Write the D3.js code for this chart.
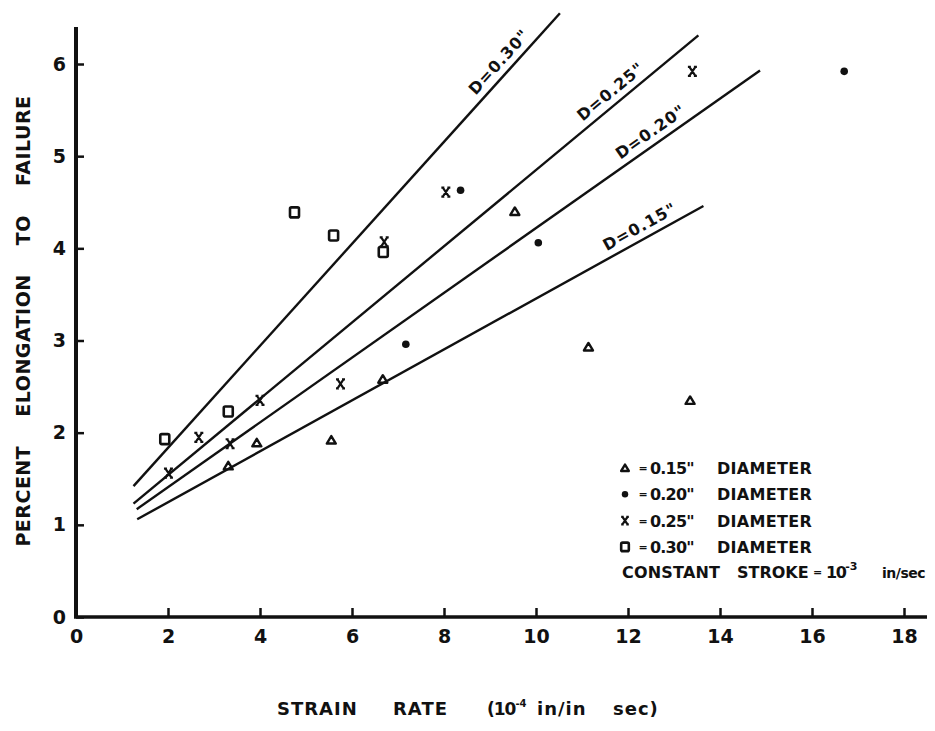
<!DOCTYPE html>
<html>
<head>
<meta charset="utf-8">
<script src="https://cdn.jsdelivr.net/npm/d3@7"></script>
<style>
  body { margin: 0; background: #fff; }
  text { font-family: "DejaVu Sans", sans-serif; font-weight: bold; fill: #111; }
</style>
</head>
<body>
<script>
// data
var xTicks = [0, 2, 4, 6, 8, 10, 12, 14, 16, 18];
var yTicks = [0, 1, 2, 3, 4, 5, 6];

// 0.15" diameter (triangles)
var triX = [3.31, 3.93, 5.55, 6.67, 9.54, 11.14, 13.35];
var triY = [1.64, 1.89, 1.92, 2.58, 4.40, 2.93, 2.35];
// 0.20" diameter (dots)
var dotX = [7.17, 8.36, 10.05, 16.70];
var dotY = [2.96, 4.63, 4.06, 5.92];
// 0.25" diameter (x)
var crossX = [2.01, 2.67, 3.35, 4.00, 5.75, 6.70, 8.04, 13.40];
var crossY = [1.56, 1.95, 1.88, 2.35, 2.53, 4.07, 4.61, 5.92];
// 0.30" diameter (squares)
var sqX = [1.93, 3.31, 4.75, 5.60, 6.68];
var sqY = [1.93, 2.23, 4.39, 4.14, 3.96];

// fitted lines: start and end points, label position along x
var lineNames = ['D=0.30"', 'D=0.25"', 'D=0.20"', 'D=0.15"'];
var lineX1 = [1.25, 1.25, 1.32, 1.33];
var lineY1 = [1.42, 1.23, 1.17, 1.06];
var lineX2 = [10.52, 13.53, 14.87, 13.64];
var lineY2 = [6.55, 6.31, 5.93, 4.46];
var labelAt = [9.40, 11.80, 12.65, 12.39];

var legendTypes = ['tri', 'dot', 'cross', 'sq'];
var legendSizes = ['0.15"', '0.20"', '0.25"', '0.30"'];

var W = 935, H = 731;
var svg = d3.select('body').append('svg')
    .attr('width', W).attr('height', H);
svg.append('rect').attr('width', W).attr('height', H).attr('fill', '#fff');

var x = d3.scaleLinear().domain([0, 18]).range([76, 904]);
var y = d3.scaleLinear().domain([0, 6]).range([617, 64]);

// axes, ticks pointing inward
var xAxis = svg.append('g')
    .attr('transform', 'translate(0,' + y(0) + ')')
    .call(d3.axisBottom(x).tickValues(xTicks).tickFormat(d3.format('d'))
        .tickSizeInner(-9).tickSizeOuter(0).tickPadding(13));
var yAxis = svg.append('g')
    .attr('transform', 'translate(' + x(0) + ',0)')
    .call(d3.axisLeft(y).tickValues(yTicks).tickFormat(d3.format('d'))
        .tickSizeInner(-8).tickSizeOuter(0).tickPadding(10));

[xAxis, yAxis].forEach(function (a) {
    a.select('.domain').remove();
    a.selectAll('line').attr('stroke', '#111').attr('stroke-width', 2.5);
    a.selectAll('text').attr('font-size', 19).attr('font-family', '"DejaVu Sans", sans-serif')
        .attr('font-weight', 'bold').attr('fill', '#111');
});

svg.append('line')
    .attr('x1', x(0)).attr('x2', x(0))
    .attr('y1', y(0) + 1).attr('y2', 27)
    .attr('stroke', '#111').attr('stroke-width', 4);
svg.append('line')
    .attr('x1', x(0) - 2).attr('x2', 927)
    .attr('y1', y(0)).attr('y2', y(0))
    .attr('stroke', '#111').attr('stroke-width', 3.5);

// fitted lines with rotated labels
lineNames.forEach(function (name, i) {
    svg.append('line')
        .attr('x1', x(lineX1[i])).attr('y1', y(lineY1[i]))
        .attr('x2', x(lineX2[i])).attr('y2', y(lineY2[i]))
        .attr('stroke', '#111').attr('stroke-width', 2.4);

    var slope = (lineY2[i] - lineY1[i]) / (lineX2[i] - lineX1[i]);
    var ly = lineY1[i] + slope * (labelAt[i] - lineX1[i]);
    var ang = Math.atan2(y(lineY2[i]) - y(lineY1[i]), x(lineX2[i]) - x(lineX1[i])) * 180 / Math.PI;
    svg.append('text')
        .attr('transform', 'translate(' + x(labelAt[i]) + ',' + y(ly) + ') rotate(' + ang + ') translate(0,-13)')
        .attr('text-anchor', 'middle')
        .attr('dy', '0.36em')
        .attr('font-size', 16)
        .attr('letter-spacing', 1)
        .text(name);
});

// markers
function marker(g, type, cx, cy, s) {
    s = s || 1;
    if (type === 'tri') {
        g.append('path')
            .attr('d', 'M' + cx + ',' + (cy - 4 * s) + 'L' + (cx + 4.5 * s) + ',' + (cy + 3.5 * s) +
                'L' + (cx - 4.5 * s) + ',' + (cy + 3.5 * s) + 'Z')
            .attr('fill', 'none').attr('stroke', '#111').attr('stroke-width', 2.4)
            .attr('stroke-linejoin', 'round');
    } else if (type === 'dot') {
        g.append('circle').attr('cx', cx).attr('cy', cy).attr('r', 3.8 * s).attr('fill', '#111');
    } else if (type === 'sq') {
        g.append('rect')
            .attr('x', cx - 4.5 * s).attr('y', cy - 5 * s)
            .attr('width', 9 * s).attr('height', 10 * s).attr('rx', 1.5)
            .attr('fill', 'none').attr('stroke', '#111').attr('stroke-width', 2.6);
    } else {
        var a = 3 * s, b = 4.5 * s;
        g.append('path')
            .attr('d', 'M' + (cx - a) + ',' + (cy - b) + 'L' + (cx + a) + ',' + (cy + b) +
                'M' + (cx + a) + ',' + (cy - b) + 'L' + (cx - a) + ',' + (cy + b) +
                'M' + (cx - b) + ',' + (cy - b) + 'H' + (cx - 1.5 * s) +
                'M' + (cx + 1.5 * s) + ',' + (cy - b) + 'H' + (cx + b) +
                'M' + (cx - b) + ',' + (cy + b) + 'H' + (cx - 1.5 * s) +
                'M' + (cx + 1.5 * s) + ',' + (cy + b) + 'H' + (cx + b))
            .attr('fill', 'none').attr('stroke', '#111').attr('stroke-width', 2.2);
    }
}

var pts = svg.append('g');
triX.forEach(function (v, i) { marker(pts, 'tri', x(v), y(triY[i])); });
dotX.forEach(function (v, i) { marker(pts, 'dot', x(v), y(dotY[i])); });
crossX.forEach(function (v, i) { marker(pts, 'cross', x(v), y(crossY[i])); });
sqX.forEach(function (v, i) { marker(pts, 'sq', x(v), y(sqY[i])); });

// legend
var leg = svg.append('g');
legendTypes.forEach(function (t, i) {
    var cy = 468 + i * 26.3;
    marker(leg, t, 625, cy, 0.85);
    leg.append('text').attr('x', 643).attr('y', cy + 4).attr('text-anchor', 'middle')
        .attr('font-size', 11).text('=');
    leg.append('text').attr('x', 650).attr('y', cy + 6).attr('font-size', 16)
        .attr('letter-spacing', -0.8).text(legendSizes[i]);
    leg.append('text').attr('x', 717).attr('y', cy + 6).attr('font-size', 16)
        .attr('letter-spacing', 0.3).text('DIAMETER');
});
var last = leg.append('text').attr('y', 578).attr('font-size', 16);
last.append('tspan').attr('x', 622).attr('letter-spacing', 0.2).text('CONSTANT');
last.append('tspan').attr('x', 737).text('STROKE');
last.append('tspan').attr('x', 813).attr('font-size', 11).attr('dy', -2).text('=');
last.append('tspan').attr('x', 826).attr('dy', 2).attr('letter-spacing', -1.5).text('10');
last.append('tspan').attr('dy', -8).attr('font-size', 11).text('-3');
last.append('tspan').attr('x', 882).attr('dy', 8).attr('font-size', 14).attr('letter-spacing', -0.5).text('in/sec');

// axis titles
var xt = svg.append('text').attr('y', 715).attr('font-size', 18).attr('letter-spacing', 1);
xt.append('tspan').attr('x', 277).text('STRAIN');
xt.append('tspan').attr('x', 393).text('RATE');
xt.append('tspan').attr('x', 487).attr('letter-spacing', -1).attr('font-size', 17).text('(10');
xt.append('tspan').attr('dy', -8).attr('font-size', 10).attr('letter-spacing', 0).text('-4');
xt.append('tspan').attr('x', 537).attr('dy', 8).text('in/in');
xt.append('tspan').attr('x', 613).text('sec)');

svg.append('text')
    .attr('transform', 'translate(30,321) rotate(-90)')
    .attr('text-anchor', 'middle')
    .attr('font-size', 19)
    .attr('letter-spacing', 0.5)
    .attr('word-spacing', 22)
    .text('PERCENT ELONGATION TO FAILURE');
</script>
</body>
</html>
